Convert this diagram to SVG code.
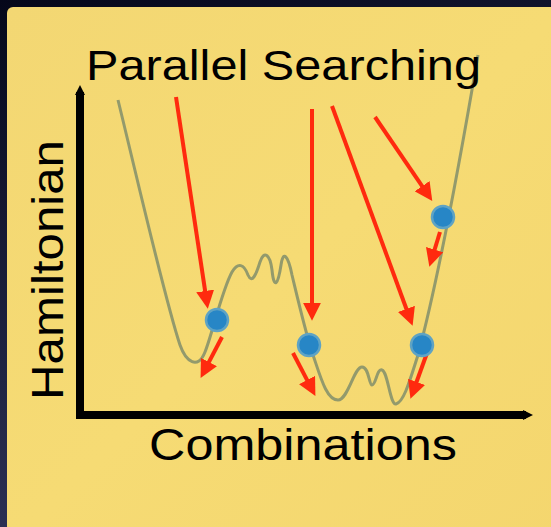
<svg xmlns="http://www.w3.org/2000/svg" width="551" height="527" viewBox="0 0 551 527">
<defs>
<linearGradient id="bg" x1="0" y1="0" x2="0.3" y2="1">
<stop offset="0" stop-color="#05071a"/>
<stop offset="1" stop-color="#2e3358"/>
</linearGradient>
<linearGradient id="paper" x1="0" y1="0" x2="1" y2="1">
<stop offset="0" stop-color="#f3d773"/>
<stop offset="0.5" stop-color="#f6db74"/>
<stop offset="1" stop-color="#f4d66e"/>
</linearGradient>
<marker id="ah" viewBox="0 0 10 10" refX="4" refY="5" markerWidth="18" markerHeight="18" markerUnits="userSpaceOnUse" orient="auto">
<path d="M0,0 L10,5 L0,10 z" fill="#ff2a0e"/>
</marker>
<marker id="ax" viewBox="0 0 10 10" refX="3" refY="5" markerWidth="10" markerHeight="14" markerUnits="userSpaceOnUse" orient="auto">
<path d="M0,0 L10,5 L0,10 z" fill="#000"/>
</marker>
</defs>
<style>
.t{font-family:"Liberation Sans","Noto Sans",sans-serif;fill:#000}
.ar{stroke:#ff2a0e;stroke-width:4;fill:none;marker-end:url(#ah)}
.dot{fill:#2786c6;stroke:#5fa3c4;stroke-width:2.5}
.axis{stroke:#000;stroke-width:8;fill:none}
</style>
<rect width="551" height="527" fill="url(#bg)"/>
<rect x="7" y="7" width="560" height="540" rx="6" fill="url(#paper)"/>
<g id="axes">
<path class="axis" d="M80,419 V92" marker-end="url(#ax)"/>
<path class="axis" d="M76,415 H526" marker-end="url(#ax)"/>
</g>
<g id="curve">
<path d="M118,100 C140,190 165,300 180,345 C186,362 198,370 205,352 C212,335 222,290 232,272 C238,262 244,264 248,275 C252,284 256,275 260,262 C264,250 270,254 272,270 C274,290 278,285 281,265 C283,250 288,255 292,275 C298,300 305,330 312,352 C320,375 326,400 338,400 C348,400 354,367 362,367 C369,367 369,385 372,385 C376,385 377,368 382,370 C388,372 390,405 396,404 C404,402 410,380 418,355 C430,310 450,220 478,55" fill="none" stroke="#939a6c" stroke-width="3"/>
</g>
<g id="connectors">
<line class="ar" x1="176" y1="97" x2="206.2" y2="298.1"/>
<line class="ar" x1="312" y1="109" x2="312" y2="310"/>
<line class="ar" x1="332" y1="106" x2="408.9" y2="315.7"/>
<line class="ar" x1="375" y1="117" x2="426.2" y2="192.1"/>
<line class="ar" x1="222" y1="337" x2="205.6" y2="368.4"/>
<line class="ar" x1="293" y1="353" x2="310.4" y2="386.4"/>
<line class="ar" x1="427" y1="353" x2="414.1" y2="388.7"/>
<line class="ar" x1="440" y1="232" x2="432.5" y2="256.5"/>
</g>
<g id="dots">
<circle class="dot" cx="217" cy="320" r="11"/>
<circle class="dot" cx="309" cy="345" r="11"/>
<circle class="dot" cx="422" cy="345" r="11"/>
<circle class="dot" cx="443" cy="217" r="11"/>
</g>
<g id="labels">
<text class="t" x="86" y="80" font-size="43" textLength="395" lengthAdjust="spacingAndGlyphs">Parallel Searching</text>
<text class="t" x="149" y="460" font-size="44" textLength="308" lengthAdjust="spacingAndGlyphs">Combinations</text>
<text class="t" transform="translate(63,400) rotate(-90)" font-size="44" textLength="260" lengthAdjust="spacingAndGlyphs">Hamiltonian</text>
</g>
</svg>
